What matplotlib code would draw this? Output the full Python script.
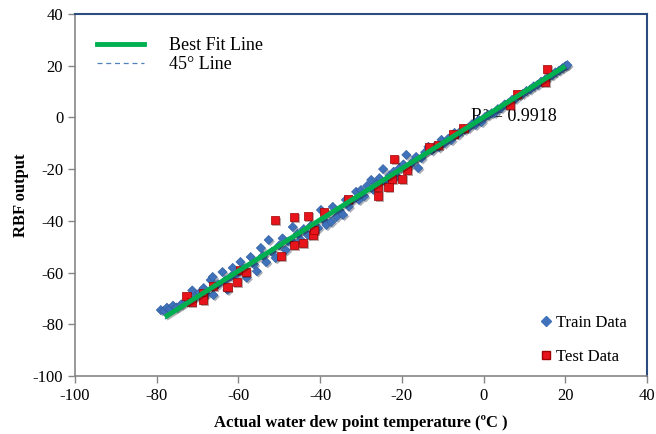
import numpy as np
import matplotlib
matplotlib.use("Agg")
import matplotlib.pyplot as plt
import matplotlib.patheffects as pe
from matplotlib.lines import Line2D

plt.rcParams['font.family'] = ['Liberation Serif', 'DejaVu Serif']
plt.rcParams['axes.unicode_minus'] = False

# train data (actual, predicted)
train_x = [-79.0, -78.2, -77.5, -76.8, -76.0, -75.2, -74.0, -72.8, -71.3, -70.5,
           -69.5, -68.5, -67.8, -66.8, -66.3, -66.1, -65.0, -63.9, -63.2, -62.7,
           -61.8, -61.4, -60.5, -59.5, -58.8, -58.0, -57.0, -56.2, -55.5, -54.5,
           -54.0, -53.2, -52.6, -51.8, -50.9, -50.0, -49.2, -48.4, -47.8, -46.7,
           -46.4, -45.5, -44.7, -44.0, -43.0, -42.2, -41.5, -40.5, -39.8, -39.1,
           -38.5, -37.3, -36.9, -36.0, -35.2, -34.4, -33.7, -33.0, -32.2, -31.2,
           -30.5, -30.0, -29.2, -28.5, -27.5, -27.0, -26.2, -25.5, -24.6, -24.0,
           -23.0, -22.0, -21.2, -20.5, -19.6, -18.9, -18.0, -17.2, -16.5, -16.0,
           -15.2, -14.3, -13.5, -12.6, -11.8, -10.9, -10.3, -9.5, -8.6, -7.9,
           -7.1, -6.2, -5.5, -4.6, -3.7, -2.8, -2.0, -1.2, -0.5, 0.4,
           1.2, 2.0, 2.7, 3.5, 4.3, 5.2, 6.0, 7.0, 7.8, 8.8,
           9.6, 10.5, 11.4, 12.3, 13.2, 14.1, 15.0, 15.9, 16.8, 17.6,
           18.5, 19.3, 20.0, 20.5]
train_y = [-74.5, -74.8, -73.6, -74.2, -72.8, -73.5, -72.3, -71.0, -66.9, -69.5,
           -67.8, -66.0, -68.4, -62.9, -61.7, -68.7, -64.5, -59.8, -63.0, -66.7,
           -61.5, -58.2, -60.8, -55.9, -58.5, -62.0, -54.0, -56.8, -59.5, -50.5,
           -53.5, -56.0, -47.4, -52.0, -54.4, -49.5, -46.8, -51.3, -48.0, -42.4,
           -48.6, -45.0, -47.4, -43.2, -45.5, -41.8, -44.0, -42.8, -35.8, -39.7,
           -41.6, -40.4, -34.6, -38.5, -36.0, -37.7, -31.9, -34.5, -32.0, -28.8,
           -31.9, -28.1, -30.5, -26.5, -24.2, -28.0, -25.8, -23.5, -20.0, -25.0,
           -22.5, -21.0, -22.8, -19.5, -18.2, -14.5, -18.5, -17.0, -15.3, -19.6,
           -15.8, -13.5, -11.4, -12.8, -11.0, -11.6, -8.7, -10.0, -8.2, -8.8,
           -6.0, -6.6, -5.2, -4.8, -4.1, -2.6, -2.9, -1.0, -1.8, 0.2,
           0.9, 1.6, 1.7, 3.2, 3.6, 5.0, 5.4, 6.8, 7.2, 8.6,
           9.1, 10.2, 10.8, 12.0, 12.6, 13.8, 14.5, 15.6, 16.3, 17.4,
           18.1, 19.0, 19.8, 20.2]

# test data
test_x = [-72.7, -71.5, -68.6, -68.6, -66.3, -62.7, -60.4, -59.5, -58.2, -51.1,
          -49.6, -46.4, -46.4, -44.2, -43.0, -41.8, -41.5, -39.1, -33.2, -25.8,
          -25.8, -23.3, -22.4, -21.9, -19.9, -18.7, -13.3, -11.1, -7.4, -4.9,
          6.4, 8.1, 15.0, 15.5]
test_y = [-69.0, -71.4, -67.9, -70.6, -65.2, -65.6, -63.6, -59.0, -59.8, -39.7,
          -53.6, -49.3, -38.5, -48.6, -38.1, -45.5, -43.5, -36.6, -31.5, -30.4,
          -26.9, -26.9, -23.8, -16.1, -23.8, -20.3, -11.4, -10.7, -6.4, -4.1,
          4.8, 9.1, 13.7, 18.7]

fit_range = [-78, 20]
fit_slope = 0.99
fit_intercept = 0.0
r2_label = "R² = 0.9918"

fig = plt.figure(figsize=(6.56, 4.34), dpi=100)
ax = fig.add_axes([0.1143, 0.1336, 0.8720, 0.8344])

shadow = [pe.SimplePatchShadow(offset=(1.2, -1.2), alpha=0.35), pe.Normal()]

fx = np.array(fit_range, dtype=float)
ax.plot(fx, fx, ls=(0, (4, 3)), color='#4F81BD', lw=0.9, zorder=2)

ax.text(-3, 0.5, r2_label, fontsize=13, va='center', ha='left', zorder=1)

ax.scatter(train_x, train_y, marker='D', s=22, color='#3F72BA', edgecolors='#2E5A9A',
           linewidths=0.4, zorder=3, path_effects=shadow)
ax.scatter(test_x, test_y, marker='s', s=36, color='#E8141B', edgecolors='#A00000',
           linewidths=0.5, zorder=4, path_effects=shadow)

ax.plot(fx, fit_slope * fx + fit_intercept, color='#00B050', lw=3.5, zorder=5,
        solid_capstyle='butt',
        path_effects=[pe.SimpleLineShadow(offset=(1, -1), alpha=0.3), pe.Normal()])

ax.set_xlim(-100, 40)
ax.set_ylim(-100, 40)
ax.set_xticks(np.arange(-100, 41, 20))
ax.set_yticks(np.arange(-100, 41, 20))
ax.tick_params(labelsize=12, direction='out', length=5, color='#868686', width=1)

for s in ['left', 'bottom']:
    ax.spines[s].set_color('#868686')
    ax.spines[s].set_linewidth(1.2)
for s in ['top', 'right']:
    ax.spines[s].set_color('#2B4C7E')
    ax.spines[s].set_linewidth(1.5)

ax.set_xlabel('Actual water dew point temperature (ºC )', fontsize=12, fontweight='bold', labelpad=8)
ax.set_ylabel('RBF output', fontsize=12, fontweight='bold', labelpad=3)

h1 = [Line2D([], [], color='#00B050', lw=3.5),
      Line2D([], [], color='#4F81BD', lw=0.9, ls=(0, (4, 3)))]
leg1 = ax.legend(h1, ['Best Fit Line', '45° Line'], loc='upper left', frameon=False,
                 fontsize=13, handlelength=2.6, handletextpad=1.4, labelspacing=0.1,
                 bbox_to_anchor=(0.01, 0.98))
ax.add_artist(leg1)

h2 = [Line2D([], [], ls='none', marker='D', ms=5, color='#3F72BA'),
      Line2D([], [], ls='none', marker='s', ms=6, color='#E8141B', mec='#A00000')]
ax.legend(h2, ['Train Data', 'Test Data'], loc='lower right', frameon=False,
          fontsize=12, handlelength=0.6, handletextpad=0.3, labelspacing=1.05,
          bbox_to_anchor=(0.99, -0.01))

fig.savefig('out.png', dpi=100)
